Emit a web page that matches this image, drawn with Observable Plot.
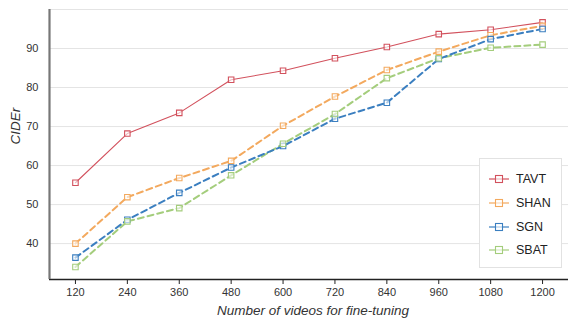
<!DOCTYPE html>
<html><head>
<meta charset="utf-8">
<script src="https://cdn.jsdelivr.net/npm/d3@7"></script>
<script src="https://cdn.jsdelivr.net/npm/@observablehq/plot@0.6"></script>
<style>
body{margin:0;background:#fff;}
#wrap{position:relative;width:570px;height:323px;font-family:"Liberation Sans",Arial,sans-serif;}
#legend{position:absolute;left:479px;top:158px;width:83px;height:110px;border:1px solid #e2e2e2;background:#fff;box-sizing:border-box;}
.item{position:absolute;left:9px;height:20px;display:flex;align-items:center;font-size:12.5px;color:#222;}
.item svg{margin-right:7px;}
</style>
</head><body><div id="wrap"></div>
<script>
const videos = [120, 240, 360, 480, 600, 720, 840, 960, 1080, 1200];
const names = ["TAVT", "SHAN", "SGN", "SBAT"];
const colors = ["#d2515d", "#f3a95e", "#3b7fc0", "#a4cd7c"];
const tavt = [55.6, 68.2, 73.5, 82.0, 84.3, 87.5, 90.4, 93.7, 94.8, 96.7];
const shan = [40.0, 51.9, 56.8, 61.2, 70.2, 77.7, 84.5, 89.2, 93.4, 95.8];
const sgn  = [36.4, 46.1, 53.0, 59.5, 65.0, 72.0, 76.1, 87.3, 92.4, 95.0];
const sbat = [34.0, 45.7, 49.1, 57.5, 65.6, 73.2, 82.4, 87.5, 90.2, 91.0];
const yTicks = [40, 50, 60, 70, 80, 90];
const yGrid = [40, 50, 60, 70, 80, 90, 100];
const xLabel = "Number of videos for fine-tuning";
const yLabel = "CIDEr";

const seriesVals = [tavt, shan, sgn, sbat];
const data = names.flatMap((n, i) => videos.map((v, j) => ({model: n, videos: v, cider: seriesVals[i][j]})));
const styleOf = {
  TAVT: {strokeWidth: 1.1, dash: null},
  SHAN: {strokeWidth: 2, dash: "6,4"},
  SGN: {strokeWidth: 2, dash: "6,4"},
  SBAT: {strokeWidth: 2, dash: "6,4"}
};
const yMin = 30.8, yMax = 100, xMin = 60, xMax = 1260;

const lineMarks = names.slice().reverse().map(n => Plot.line(data.filter(d => d.model === n), {
  x: "videos", y: "cider", stroke: "model",
  strokeWidth: styleOf[n].strokeWidth,
  strokeDasharray: styleOf[n].dash
}));

const plot = Plot.plot({
  width: 570, height: 323,
  marginLeft: 49, marginRight: 2, marginTop: 9, marginBottom: 44,
  style: {fontFamily: '"Liberation Sans", Arial, sans-serif', fontSize: "11px", color: "#333", background: "#fff"},
  x: {domain: [xMin, xMax]},
  y: {domain: [yMin, yMax]},
  color: {domain: names, range: colors},
  marks: [
    Plot.gridY(yGrid, {stroke: "#e4e4e4", strokeOpacity: 1, strokeWidth: 1}),
    Plot.axisY(yTicks, {tickSize: 0, tickPadding: 11, label: null, fill: "#333", tickFormat: "d"}),
    Plot.axisX(videos, {tickSize: 5, tickPadding: 4, label: null, stroke: "#222", fill: "#333", tickFormat: "d"}),
    Plot.ruleY([yMin], {stroke: "#222", strokeWidth: 1.3}),
    Plot.ruleX([xMin], {stroke: "#777", strokeWidth: 2.2}),
    ...lineMarks,
    Plot.dot(data, {x: "videos", y: "cider", stroke: "model", symbol: "square", r: 3.1, fill: "white", fillOpacity: 0.6, strokeWidth: 1.1}),
    Plot.text([xLabel], {frameAnchor: "bottom", dy: 35, dx: 4, fontStyle: "italic", fontSize: 13.5, fill: "#333"}),
    Plot.text([yLabel], {frameAnchor: "left", rotate: -90, dx: -34, fontStyle: "italic", fontSize: 13.5, fill: "#333"})
  ]
});
const wrap = document.getElementById("wrap");
wrap.appendChild(plot);

const legend = document.createElement("div");
legend.id = "legend";
names.forEach((n, i) => {
  const it = document.createElement("div");
  it.className = "item";
  it.style.top = (10 + i * 23.8) + "px";
  const c = colors[i];
  it.innerHTML = `<svg width="20" height="10"><line x1="0" y1="5" x2="20" y2="5" stroke="${c}" stroke-width="1.2"/><rect x="6.5" y="1.5" width="7" height="7" fill="white" fill-opacity="0.6" stroke="${c}" stroke-width="1.1"/></svg><span>${n}</span>`;
  legend.appendChild(it);
});
wrap.appendChild(legend);
</script>
</body></html>
